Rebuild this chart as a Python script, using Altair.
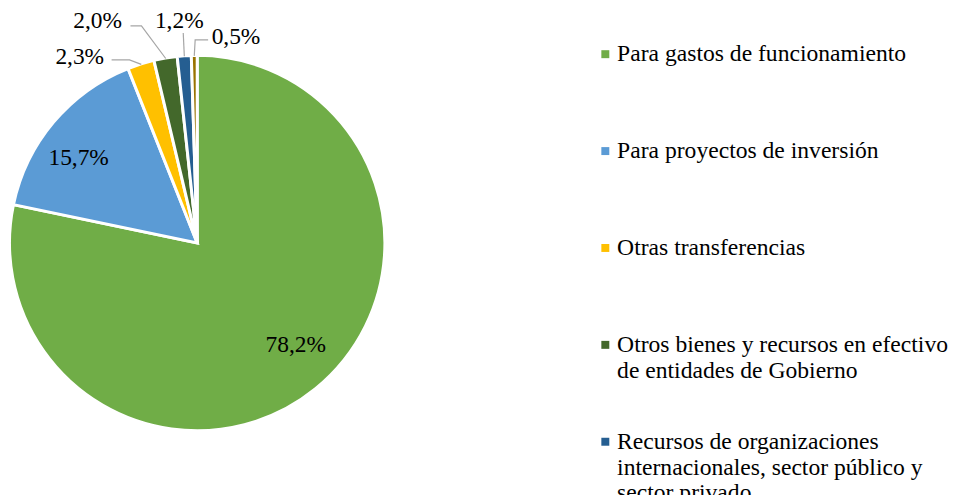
import math
import altair as alt
import pandas as pd

# ---- data ----
categories = [
    "Para gastos de funcionamiento",
    "Para proyectos de inversión",
    "Otras transferencias",
    "Otros bienes y recursos en efectivo\nde entidades de Gobierno",
    "Recursos de organizaciones\ninternacionales, sector público y\nsector privado",
    "Otros recursos",
]
values = [78.2, 15.7, 2.3, 2.0, 1.2, 0.5]
labels = ["78,2%", "15,7%", "2,3%", "2,0%", "1,2%", "0,5%"]
colors = ["#70AD47", "#5B9BD5", "#FFC000", "#43682B", "#255E91", "#997300"]

# ---- layout (pie centre / radius in view pixels, label nudges) ----
CX, CY, R = 190, 235, 187
label_nudge = [(-18.9, -43.1), (24, 35.5), (-61.8, -8.6), (-68.4, -38.7), (-5.1, -36.4), (41.9, -20)]
leader_nudge = [None, None,
                [(-11.8, -5.6), (-29.8, -5.6)],
                [(-24.4, -33.7), (-35.4, -33.7)],
                [(-1.1, -24.4)],
                [(0.9, -17), (13.9, -17)]]

total = sum(values)
edges = []
cum = 0.0
for v in values:
    mid = (cum + v / 2) / total * 2 * math.pi
    cum += v
    edges.append((CX + R * math.sin(mid), CY - R * math.cos(mid)))

lab_rows, lead_rows = [], []
for i, (cat, lbl) in enumerate(zip(categories, labels)):
    ex, ey = edges[i]
    dx, dy = label_nudge[i]
    lab_rows.append({"cat": cat, "lbl": lbl, "lx": ex + dx, "ly": ey + dy})
    if leader_nudge[i]:
        lead_rows.append({"cat": cat, "seq": 0, "px": ex, "py": ey - 1})
        for k, (ox, oy) in enumerate(leader_nudge[i]):
            lead_rows.append({"cat": cat, "seq": k + 1, "px": ex + ox, "py": ey + oy})

pie_df = pd.DataFrame({"cat": categories, "value": values, "idx": list(range(len(values)))})
lab_df = pd.DataFrame(lab_rows)
lead_df = pd.DataFrame(lead_rows)

# pad every legend label to 3 lines so all entries have equal height
label_expr = (
    "split(datum.label + "
    "(length(split(datum.label, '\\n')) == 1 ? '\\n \\n ' : "
    "(length(split(datum.label, '\\n')) == 2 ? '\\n ' : '')), '\\n')"
)

arcs = alt.Chart(pie_df).mark_arc(outerRadius=188.5, stroke="white", strokeWidth=3).encode(
    theta=alt.Theta("value:Q", stack=True),
    order=alt.Order("idx:Q"),
    color=alt.Color(
        "cat:N",
        scale=alt.Scale(domain=categories, range=colors),
        legend=alt.Legend(
            title=None,
            orient="none",
            legendX=587,
            legendY=33.5,
            symbolType="square",
            symbolSize=64,
            symbolStrokeWidth=0,
            symbolOffset=1,
            labelFont="Liberation Serif",
            labelFontSize=23.7,
            labelLimit=600,
            labelBaseline="middle",
            labelColor="black",
            labelOffset=0,
            rowPadding=20.3,
            padding=0,
            labelExpr=label_expr,
        ),
    ),
    x=alt.value(CX),
    y=alt.value(CY),
)

leaders = alt.Chart(lead_df).mark_line(color="#A6A6A6", strokeWidth=1.2).encode(
    x=alt.X("px:Q", scale=None, axis=None),
    y=alt.Y("py:Q", scale=None, axis=None),
    detail="cat:N",
    order="seq:Q",
)

texts = alt.Chart(lab_df).mark_text(
    font="Liberation Serif", fontSize=23.5, color="black", align="center", baseline="middle"
).encode(
    x=alt.X("lx:Q", scale=None, axis=None),
    y=alt.Y("ly:Q", scale=None, axis=None),
    text="lbl:N",
)

chart = alt.layer(arcs, leaders, texts).properties(
    width=950, height=487, padding=0, autosize=alt.AutoSizeParams(type="none"),
    background="white",
).configure(
    style={"guide-label": {"lineHeight": 26}},
).configure_view(stroke=None)

chart.save("out.html", embed_options={"renderer": "svg", "actions": False})
